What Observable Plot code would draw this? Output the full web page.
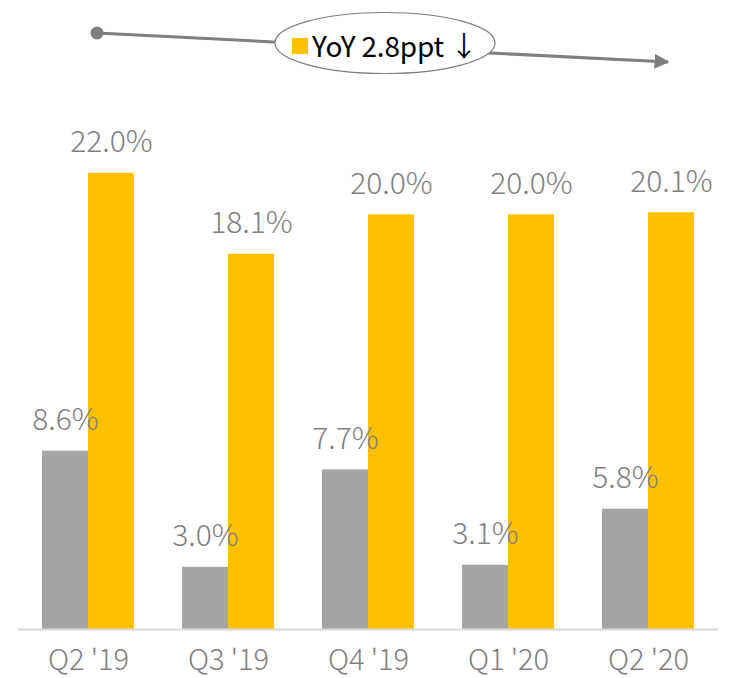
<!DOCTYPE html>
<html><head><meta charset="utf-8">
<script src="https://cdn.jsdelivr.net/npm/d3@7"></script>
<script src="https://cdn.jsdelivr.net/npm/@observablehq/plot@0.6"></script>
<style>
body{margin:0;background:#fff;}
#chart{position:relative;width:732px;height:678px;}
</style>
</head><body><div id="chart"></div>
<script>
const quarters = ["Q2 '19","Q3 '19","Q4 '19","Q1 '20","Q2 '20"];
const seriesNames = ["A","B"];
const grayValues = [8.6, 3.0, 7.7, 3.1, 5.8];
const orangeValues = [22.0, 18.1, 20.0, 20.0, 20.1];
const annotationText = "YoY 2.8ppt ↓";

const data = [];
quarters.forEach((q,i)=>{
  data.push({quarter:q, series:"A", value:grayValues[i]});
  data.push({quarter:q, series:"B", value:orangeValues[i]});
});
const font = "'Noto Sans CJK KR', 'Noto Sans', sans-serif";

const plot = Plot.plot({
  width: 732, height: 678,
  marginLeft: 18, marginRight: 14, marginTop: 7, marginBottom: 49,
  style: {fontFamily: font, background: "#fff"},
  fx: {domain: quarters, padding: 0, label: null},
  x: {domain: seriesNames, paddingInner: 0, paddingOuter: 0.5, axis: null},
  y: {domain: [0, 30], axis: null},
  color: {domain: seriesNames, range: ["#a5a5a5", "#ffc000"]},
  marks: [
    Plot.barY(data, {fx: "quarter", x: "series", y: "value", fill: "series"}),
    Plot.text(data, {fx: "quarter", x: "series", y: "value", text: d => d.value.toFixed(1) + "%",
      lineAnchor: "bottom", dy: -21, fill: "#7f7f7f", fontSize: 30, fontWeight: 300}),
    Plot.ruleY([0], {stroke: "#d9d9d9", strokeWidth: 2}),
    Plot.axisFx({anchor: "bottom", tickSize: 0, tickPadding: 20, fontSize: 29, label: null,
      color: "#7f7f7f", fontWeight: 300})
  ]
});
document.getElementById("chart").appendChild(plot);

// annotation
const svg = d3.select(plot);
const g = svg.append("g").attr("text-anchor","start");
svg.append("defs").append("marker").attr("id","arr").attr("viewBox","0 0 10 10")
  .attr("refX",9).attr("refY",5).attr("markerWidth",5).attr("markerHeight",5).attr("orient","auto")
  .append("path").attr("d","M0,0L10,5L0,10z").attr("fill","#7f7f7f");
g.append("line").attr("x1",97).attr("y1",33).attr("x2",668).attr("y2",62)
  .attr("stroke","#7f7f7f").attr("stroke-width",3).attr("marker-end","url(#arr)");
g.append("circle").attr("cx",97).attr("cy",33).attr("r",6.5).attr("fill","#7f7f7f");
g.append("ellipse").attr("cx",385).attr("cy",43).attr("rx",110).attr("ry",30.5)
  .attr("fill","#fff").attr("stroke","#7f7f7f").attr("stroke-width",1.2);
g.append("rect").attr("x",292).attr("y",38).attr("width",16).attr("height",16).attr("fill","#ffc000");
g.append("text").attr("x",312).attr("y",57).attr("font-size",28).attr("fill","#000")
  .attr("textLength",166).attr("lengthAdjust","spacing")
  .attr("text-anchor","start").attr("font-family",font).attr("font-weight",400).text(annotationText);
</script></body></html>
